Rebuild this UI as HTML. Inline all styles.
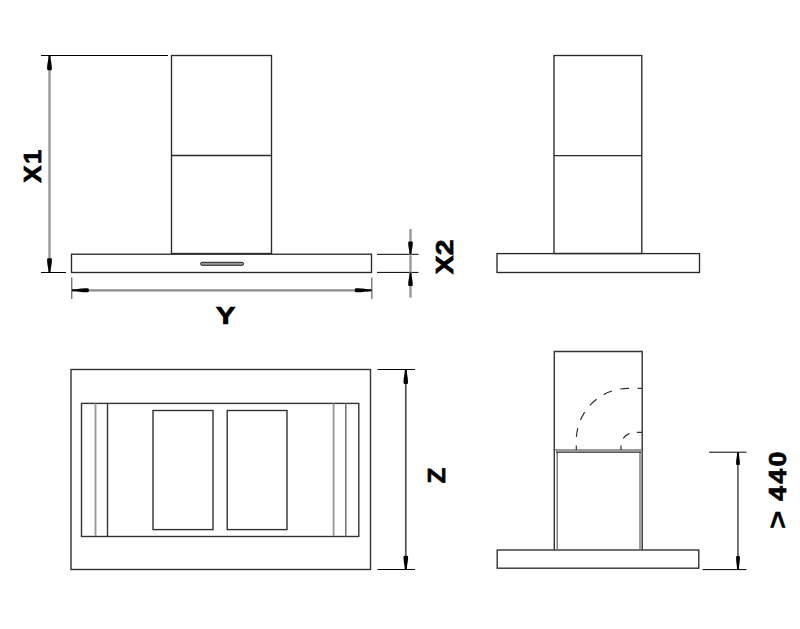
<!DOCTYPE html>
<html><head><meta charset="utf-8"><style>
html,body{margin:0;padding:0;background:#fff;width:800px;height:629px;overflow:hidden}
svg{display:block}
text{font-family:"Liberation Sans",sans-serif;font-weight:bold;fill:#000;stroke:#000;stroke-width:0.7}
</style></head><body>
<svg width="800" height="629" viewBox="0 0 800 629">
<g fill="none" stroke="#2a2a2a" stroke-width="1.35">
  <!-- front view -->
  <rect x="171.5" y="55.5" width="100" height="198"/>
  <line x1="171.5" y1="155.5" x2="271.5" y2="155.5"/>
  <rect x="71.5" y="254.2" width="300" height="18.3"/>
  <!-- side view top right -->
  <rect x="554" y="55.5" width="87.8" height="198"/>
  <line x1="554" y1="155.6" x2="641.8" y2="155.6"/>
  <rect x="497" y="253.6" width="202.5" height="18.9"/>
</g>
<rect x="200.6" y="262.3" width="43" height="3" rx="1.5" fill="#999" stroke="#222" stroke-width="1"/>

<!-- X1 dimension -->
<g stroke="#000" stroke-width="1">
  <line x1="41" y1="55.5" x2="168" y2="55.5"/>
  <line x1="41" y1="272.5" x2="66" y2="272.5"/>
</g>
<line x1="49.5" y1="56" x2="49.5" y2="272" stroke="#9a9a9a" stroke-width="2.4"/>
<text transform="translate(41.2,165.4) rotate(-90) scale(1.06,1)" text-anchor="middle" font-size="24.5" letter-spacing="1.5">X1</text>

<!-- Y dimension -->
<g stroke="#777" stroke-width="1.4">
  <line x1="71.7" y1="277.5" x2="71.7" y2="299"/>
  <line x1="371.8" y1="277.5" x2="371.8" y2="299"/>
</g>
<line x1="72" y1="290.3" x2="371.5" y2="290.3" stroke="#8c8c8c" stroke-width="2.2"/>
<text transform="translate(225.7,324.2) scale(1.23,1)" text-anchor="middle" font-size="24">Y</text>

<!-- X2 dimension -->
<g stroke="#000" stroke-width="1">
  <line x1="377" y1="254.3" x2="418.5" y2="254.3"/>
  <line x1="377" y1="272.4" x2="418.5" y2="272.4"/>
</g>
<line x1="410.5" y1="229" x2="410.5" y2="297.6" stroke="#9a9a9a" stroke-width="2.4"/>
<text transform="translate(452.6,256.9) rotate(-90) scale(1.18,1)" text-anchor="middle" font-size="24">X2</text>

<!-- bottom-left top view -->
<g fill="none" stroke="#333" stroke-width="1.4">
  <rect x="71" y="369.5" width="299.5" height="200"/>
  <rect x="81.5" y="403.4" width="277.3" height="133.1"/>
  <rect x="153" y="410.5" width="60" height="119.1"/>
  <rect x="227.2" y="410.5" width="59.8" height="119.1"/>
  <line x1="107.5" y1="403" x2="107.5" y2="536.5"/>
</g>
<g stroke="#9a9a9a" stroke-width="1.9">
  <line x1="95.5" y1="403.5" x2="95.5" y2="536"/>
  <line x1="333.6" y1="403.5" x2="333.6" y2="536"/>
</g>
<line x1="345.8" y1="403" x2="345.8" y2="536.5" stroke="#666" stroke-width="1.4"/>

<!-- Z dimension -->
<g stroke="#000" stroke-width="1">
  <line x1="377.5" y1="369.5" x2="415" y2="369.5"/>
  <line x1="377.5" y1="569.5" x2="415" y2="569.5"/>
</g>
<line x1="405.8" y1="370" x2="405.8" y2="569" stroke="#5a5a5a" stroke-width="1.8"/>
<text transform="translate(445.3,475.6) rotate(-90) scale(1.08,1)" text-anchor="middle" font-size="24">Z</text>

<!-- bottom-right side view -->
<g fill="none" stroke="#333" stroke-width="1.4">
  <polyline points="554.3,550 554.3,351.5 642.2,351.5 642.2,550"/>
  <rect x="497.2" y="550" width="201.6" height="18.2"/>
</g>
<g fill="none" stroke="#777" stroke-width="1.4">
  <line x1="557.2" y1="452" x2="557.2" y2="550"/>
  <line x1="640" y1="452" x2="640" y2="550"/>
  <line x1="555" y1="450" x2="642" y2="450"/>
</g>
<line x1="556" y1="452.1" x2="641" y2="452.1" stroke="#222" stroke-width="1.2"/>
<g fill="none" stroke="#333" stroke-width="1.2">
  <path d="M576.3 450 L576.3 440 A52 52 0 0 1 628 388.4 L642 388.4" stroke-dasharray="9 8.5" stroke-dashoffset="4.5"/>
  <path d="M621 450 L621 446 A14 13.5 0 0 1 635 432.3 L642 432.3" stroke-dasharray="8 7.5" stroke-dashoffset="3.5"/>
</g>

<!-- >440 dimension -->
<g stroke="#000" stroke-width="1">
  <line x1="709" y1="452.2" x2="746.5" y2="452.2"/>
  <line x1="702.5" y1="569.6" x2="746.5" y2="569.6"/>
</g>
<line x1="737.9" y1="452.5" x2="737.9" y2="569" stroke="#666" stroke-width="1.8"/>
<text transform="translate(785.8,475.2) rotate(-90) scale(1.12,1)" text-anchor="middle" font-size="24" letter-spacing="2">440</text>
<text transform="translate(786.8,519.8) rotate(-90) scale(1.12,1)" text-anchor="middle" font-size="28" style="stroke-width:0.3">&gt;</text>
<!-- ARROWS -->
<g fill="#000">
<path transform="translate(49.5,55.5) rotate(180)" d="M-0.95 0 C-0.95 -5.18 -2.4 -7.40 -2.4 -13.32 Q-2.4 -14.8 -1.44 -14.8 L1.44 -14.8 Q2.4 -14.8 2.4 -13.32 C2.4 -7.40 0.95 -5.18 0.95 0 Z"/>
<path transform="translate(49.5,272.5) rotate(0)" d="M-0.95 0 C-0.95 -5.00 -2.4 -7.15 -2.4 -12.87 Q-2.4 -14.3 -1.44 -14.3 L1.44 -14.3 Q2.4 -14.3 2.4 -12.87 C2.4 -7.15 0.95 -5.00 0.95 0 Z"/>
<path transform="translate(72,290.3) rotate(90)" d="M-0.95 0 C-0.95 -5.88 -2.0 -8.40 -2.0 -15.12 Q-2.0 -16.8 -1.20 -16.8 L1.20 -16.8 Q2.0 -16.8 2.0 -15.12 C2.0 -8.40 0.95 -5.88 0.95 0 Z"/>
<path transform="translate(371.6,290.3) rotate(-90)" d="M-0.95 0 C-0.95 -5.88 -2.0 -8.40 -2.0 -15.12 Q-2.0 -16.8 -1.20 -16.8 L1.20 -16.8 Q2.0 -16.8 2.0 -15.12 C2.0 -8.40 0.95 -5.88 0.95 0 Z"/>
<path transform="translate(410.5,254.3) rotate(0)" d="M-0.95 0 C-0.95 -4.48 -2.3 -6.40 -2.3 -11.52 Q-2.3 -12.8 -1.38 -12.8 L1.38 -12.8 Q2.3 -12.8 2.3 -11.52 C2.3 -6.40 0.95 -4.48 0.95 0 Z"/>
<path transform="translate(410.5,272.4) rotate(180)" d="M-0.95 0 C-0.95 -4.76 -2.3 -6.80 -2.3 -12.24 Q-2.3 -13.6 -1.38 -13.6 L1.38 -13.6 Q2.3 -13.6 2.3 -12.24 C2.3 -6.80 0.95 -4.76 0.95 0 Z"/>
<path transform="translate(405.8,369.5) rotate(180)" d="M-0.95 0 C-0.95 -5.04 -2.3 -7.20 -2.3 -12.96 Q-2.3 -14.4 -1.38 -14.4 L1.38 -14.4 Q2.3 -14.4 2.3 -12.96 C2.3 -7.20 0.95 -5.04 0.95 0 Z"/>
<path transform="translate(405.8,569.5) rotate(0)" d="M-0.95 0 C-0.95 -4.79 -2.3 -6.85 -2.3 -12.33 Q-2.3 -13.7 -1.38 -13.7 L1.38 -13.7 Q2.3 -13.7 2.3 -12.33 C2.3 -6.85 0.95 -4.79 0.95 0 Z"/>
<path transform="translate(738,452.4) rotate(180)" d="M-0.95 0 C-0.95 -4.41 -1.9 -6.30 -1.9 -11.34 Q-1.9 -12.6 -1.14 -12.6 L1.14 -12.6 Q1.9 -12.6 1.9 -11.34 C1.9 -6.30 0.95 -4.41 0.95 0 Z"/>
<path transform="translate(738,569.3) rotate(0)" d="M-0.95 0 C-0.95 -4.62 -1.9 -6.60 -1.9 -11.88 Q-1.9 -13.2 -1.14 -13.2 L1.14 -13.2 Q1.9 -13.2 1.9 -11.88 C1.9 -6.60 0.95 -4.62 0.95 0 Z"/>
</g>
<!-- /ARROWS -->
</svg>
</body></html>
